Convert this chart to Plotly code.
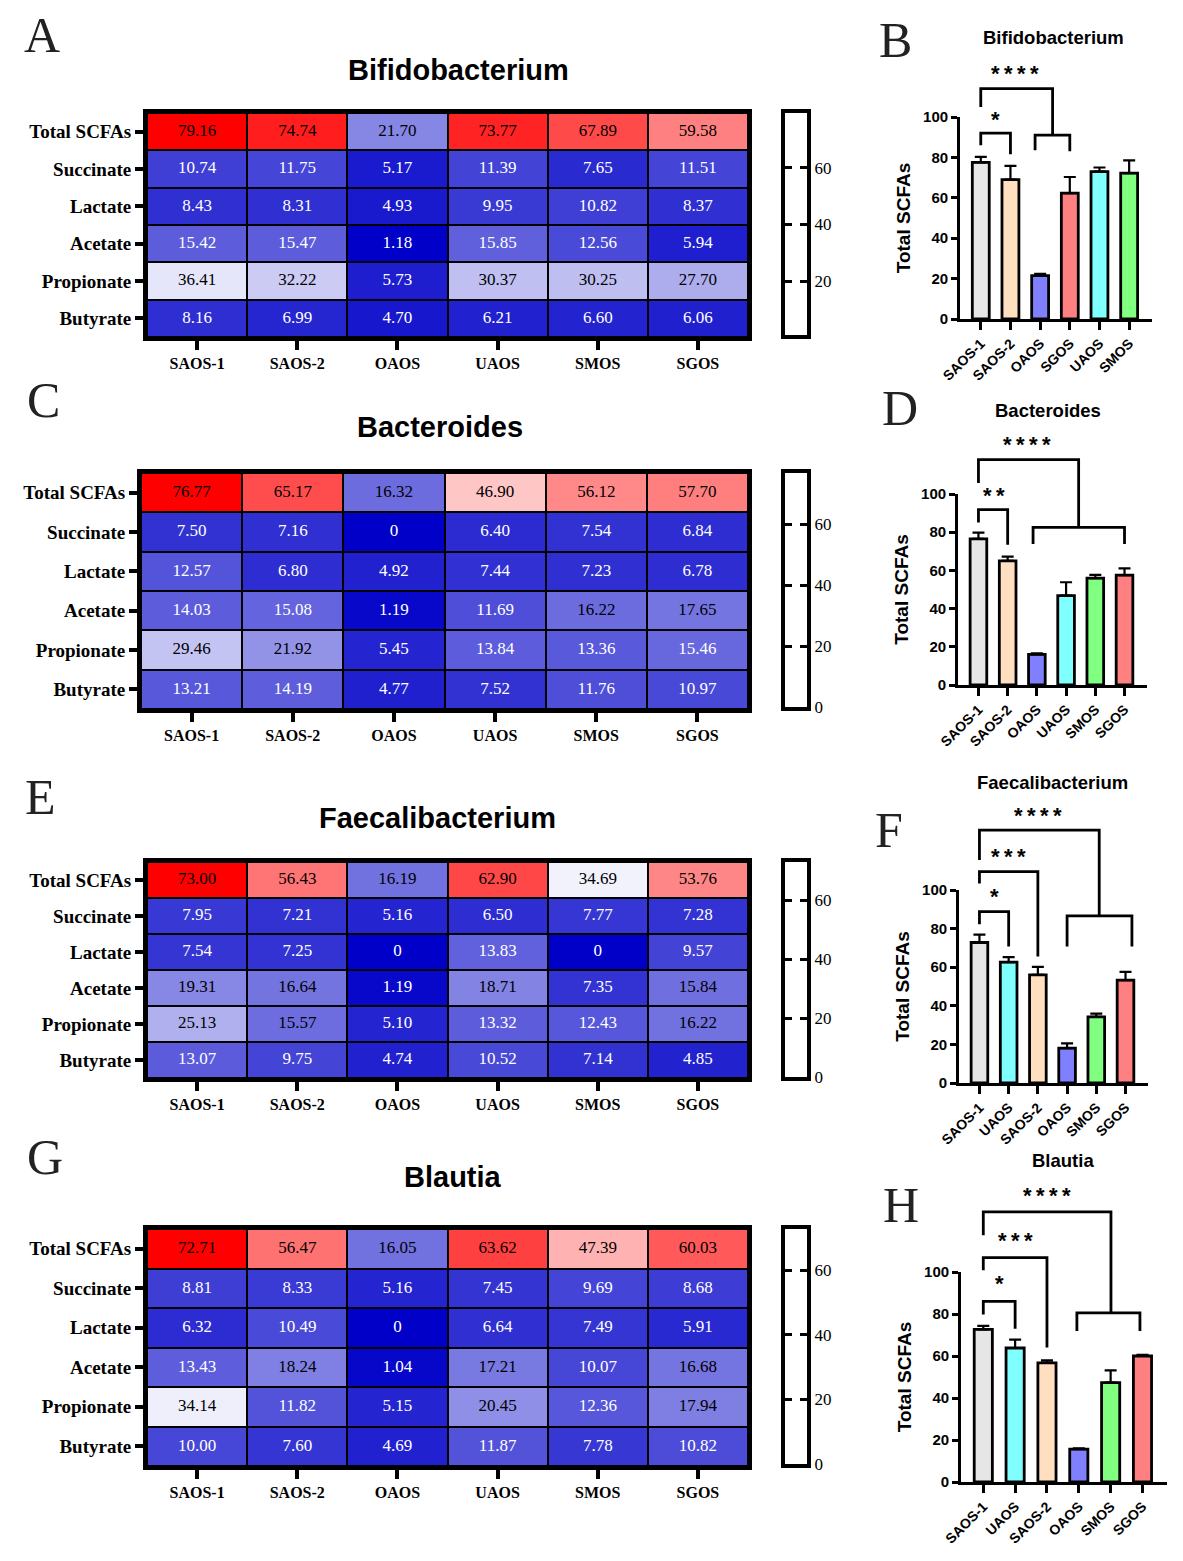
import plotly.graph_objects as go

# ---------------- DATA ----------------
heat_groups = ["SAOS-1", "SAOS-2", "OAOS", "UAOS", "SMOS", "SGOS"]
heat_rows = ["Total SCFAs", "Succinate", "Lactate", "Acetate", "Propionate", "Butyrate"]

bifido_heat = [
    [79.16, 74.74, 21.70, 73.77, 67.89, 59.58],
    [10.74, 11.75, 5.17, 11.39, 7.65, 11.51],
    [8.43, 8.31, 4.93, 9.95, 10.82, 8.37],
    [15.42, 15.47, 1.18, 15.85, 12.56, 5.94],
    [36.41, 32.22, 5.73, 30.37, 30.25, 27.70],
    [8.16, 6.99, 4.70, 6.21, 6.60, 6.06],
]
bact_heat = [
    [76.77, 65.17, 16.32, 46.90, 56.12, 57.70],
    [7.50, 7.16, 0, 6.40, 7.54, 6.84],
    [12.57, 6.80, 4.92, 7.44, 7.23, 6.78],
    [14.03, 15.08, 1.19, 11.69, 16.22, 17.65],
    [29.46, 21.92, 5.45, 13.84, 13.36, 15.46],
    [13.21, 14.19, 4.77, 7.52, 11.76, 10.97],
]
faec_heat = [
    [73.00, 56.43, 16.19, 62.90, 34.69, 53.76],
    [7.95, 7.21, 5.16, 6.50, 7.77, 7.28],
    [7.54, 7.25, 0, 13.83, 0, 9.57],
    [19.31, 16.64, 1.19, 18.71, 7.35, 15.84],
    [25.13, 15.57, 5.10, 13.32, 12.43, 16.22],
    [13.07, 9.75, 4.74, 10.52, 7.14, 4.85],
]
blautia_heat = [
    [72.71, 56.47, 16.05, 63.62, 47.39, 60.03],
    [8.81, 8.33, 5.16, 7.45, 9.69, 8.68],
    [6.32, 10.49, 0, 6.64, 7.49, 5.91],
    [13.43, 18.24, 1.04, 17.21, 10.07, 16.68],
    [34.14, 11.82, 5.15, 20.45, 12.36, 17.94],
    [10.00, 7.60, 4.69, 11.87, 7.78, 10.82],
]
colorbar_ticks = [0, 20, 40, 60]

bifido_bar_groups = ["SAOS-1", "SAOS-2", "OAOS", "SGOS", "UAOS", "SMOS"]
bifido_bar_mean = [77.5, 69.0, 21.5, 62.3, 73.0, 72.2]
bifido_bar_err = [2.8, 6.8, 0.8, 8.0, 2.0, 6.3]

bact_bar_groups = ["SAOS-1", "SAOS-2", "OAOS", "UAOS", "SMOS", "SGOS"]
bact_bar_mean = [76.5, 65.0, 16.0, 46.8, 56.0, 57.5]
bact_bar_err = [3.3, 2.2, 0.6, 7.0, 1.7, 3.6]

faec_bar_groups = ["SAOS-1", "UAOS", "SAOS-2", "OAOS", "SMOS", "SGOS"]
faec_bar_mean = [72.8, 62.6, 56.0, 18.1, 34.3, 53.3]
faec_bar_err = [4.1, 2.6, 4.2, 2.4, 1.6, 4.3]

blautia_bar_groups = ["SAOS-1", "UAOS", "SAOS-2", "OAOS", "SMOS", "SGOS"]
blautia_bar_mean = [72.7, 63.8, 56.7, 15.7, 47.3, 60.0]
blautia_bar_err = [1.6, 4.0, 1.2, 0.3, 5.9, 0.6]

bar_yticks = [0, 20, 40, 60, 80, 100]

# significance brackets: (x_left, x_right, y_bar, y_left_end, y_right_end)
bifido_brackets = [(0, 1, 92, 86, 81.6), (1.83, 3.0, 91, 83.5, 83.0), (0, 2.42, 114, 105, 91)]
bifido_stars = [(0.5, 99, "*"), (1.15, 121.5, "****")]
bact_brackets = [(0, 1, 91.8, 85.1, 73.4), (1.87, 5.0, 82.5, 73.8, 73.8), (0, 3.43, 118, 105.8, 82.5)]
bact_stars = [(0.52, 99, "**"), (1.66, 126, "****")]
faec_brackets = [(0, 1, 88.8, 82.2, 70.7), (0, 2, 109.5, 103.4, 65.5),
                 (3.0, 5.22, 86.6, 70.7, 70.7), (0, 4.1, 131, 115.5, 86.6)]
faec_stars = [(0.5, 96.6, "*"), (1.01, 117.2, "***"), (2.02, 138.8, "****")]
blautia_brackets = [(0, 1, 86, 79.8, 73), (0, 2, 106.8, 100.8, 64),
                    (2.94, 4.92, 80.5, 71.9, 71.9), (0, 4.01, 128.6, 117.5, 80.5)]
blautia_stars = [(0.5, 94.4, "*"), (1.02, 115.1, "***"), (2.0, 136.5, "****")]

group_colors = {"SAOS-1": "#E6E6E6", "SAOS-2": "#FFDFC0", "OAOS": "#8080FF",
                "UAOS": "#80FFFF", "SMOS": "#80FF80", "SGOS": "#FF8080"}

# ---------------- LAYOUT HELPERS ----------------
W, H = 1183, 1561
def fx(p): return p / W
def fy(p): return 1 - p / H

def xid(k): return "x" if k == 1 else f"x{k}"
def yid(k): return "y" if k == 1 else f"y{k}"
def xkey(k): return "xaxis" if k == 1 else f"xaxis{k}"
def ykey(k): return "yaxis" if k == 1 else f"yaxis{k}"

SERIF = "Liberation Serif, Times New Roman, serif"
SANS = "Liberation Sans, Arial, sans-serif"

heat_panels = [
    dict(title="Bifidobacterium", z=bifido_heat, box=(147, 748, 113, 337), cb=(785, 807, 113, 335),
         tpos=(458, 70), letter="A", lpos=(42, 35)),
    dict(title="Bacteroides", z=bact_heat, box=(141, 748, 473, 709), cb=(785, 807, 473, 707),
         tpos=(440, 427), letter="C", lpos=(43, 400)),
    dict(title="Faecalibacterium", z=faec_heat, box=(147, 748, 862, 1078), cb=(785, 807, 862, 1077),
         tpos=(437, 818), letter="E", lpos=(40, 797)),
    dict(title="Blautia", z=blautia_heat, box=(147, 748, 1229, 1466), cb=(785, 807, 1229, 1464),
         tpos=(453, 1177), letter="G", lpos=(45, 1157)),
]

bar_panels = [
    dict(title="Bifidobacterium", groups=bifido_bar_groups, mean=bifido_bar_mean, err=bifido_bar_err,
         brackets=bifido_brackets, stars=bifido_stars, box=(960, 1152, 319, 117),
         tpos=(1053, 37), letter="B", lpos=(895, 40)),
    dict(title="Bacteroides", groups=bact_bar_groups, mean=bact_bar_mean, err=bact_bar_err,
         brackets=bact_brackets, stars=bact_stars, box=(958, 1147, 685, 494),
         tpos=(1048, 410), letter="D", lpos=(900, 408)),
    dict(title="Faecalibacterium", groups=faec_bar_groups, mean=faec_bar_mean, err=faec_bar_err,
         brackets=faec_brackets, stars=faec_stars, box=(959, 1148, 1083, 890),
         tpos=(1052, 782), letter="F", lpos=(889, 830)),
    dict(title="Blautia", groups=blautia_bar_groups, mean=blautia_bar_mean, err=blautia_bar_err,
         brackets=blautia_brackets, stars=blautia_stars, box=(961, 1167, 1482, 1272),
         tpos=(1063, 1160), letter="H", lpos=(901, 1205)),
]

fig = go.Figure()
layout = dict(width=W, height=H, margin=dict(l=0, r=0, t=0, b=0, autoexpand=False),
              paper_bgcolor="white", plot_bgcolor="rgba(0,0,0,0)", showlegend=False)
annotations = []
shapes = []

colorscale = [[0, "rgb(0,0,200)"], [0.5, "rgb(255,255,255)"], [1, "rgb(255,0,0)"]]

def fmt(v):
    return "0" if v == 0 else f"{v:.2f}"

STAR_SEP = "\u2009"

for i, p in enumerate(heat_panels):
    k = i + 1
    xa, ya = xid(k), yid(k)
    z = p["z"]
    flat = [v for r in z for v in r]
    zmin, zmax = min(flat), max(flat)
    fig.add_trace(go.Heatmap(z=z, x=heat_groups, y=heat_rows, colorscale=colorscale,
                             zmin=zmin, zmax=zmax, showscale=False, xgap=2, ygap=2,
                             xaxis=xa, yaxis=ya, hoverinfo="skip"))
    tx, ty, tt, tc = [], [], [], []
    for ri, r in enumerate(z):
        for ci, v in enumerate(r):
            tx.append(heat_groups[ci]); ty.append(heat_rows[ri]); tt.append(fmt(v))
            t = (v - zmin) / (zmax - zmin)
            tc.append("black" if t > 0.205 else "white")
    fig.add_trace(go.Scatter(x=tx, y=ty, text=tt, mode="text", xaxis=xa, yaxis=ya,
                             textfont=dict(family=SERIF, size=17, color=tc),
                             hoverinfo="skip"))
    x0, x1, y0, y1 = p["box"]
    layout[xkey(k)] = dict(domain=[fx(x0), fx(x1)], anchor=ya, type="category", automargin=False,
                           showline=True, mirror=True, linewidth=4, linecolor="black",
                           ticks="outside", ticklen=9, tickwidth=4, tickcolor="black",
                           tickfont=dict(family=SERIF, size=16, color="black", weight="bold"),
                           showgrid=False, zeroline=False, fixedrange=True)
    layout[ykey(k)] = dict(domain=[fy(y1), fy(y0)], anchor=xa, type="category", automargin=False,
                           autorange="reversed",
                           showline=True, mirror=True, linewidth=4, linecolor="black",
                           ticks="outside", ticklen=8, tickwidth=4, tickcolor="black",
                           tickfont=dict(family=SERIF, size=19, color="black", weight="bold"),
                           showgrid=False, zeroline=False, fixedrange=True)
    shapes.append(dict(type="rect", xref=f"{xa} domain", yref=f"{ya} domain", x0=0, x1=1, y0=0, y1=1,
                       fillcolor="black", line=dict(width=0), layer="below"))
    # colour-bar frame
    kc = k + 4
    cxa, cya = xid(kc), yid(kc)
    cx0, cx1, cy0, cy1 = p["cb"]
    fig.add_trace(go.Scatter(x=[], y=[], xaxis=cxa, yaxis=cya, hoverinfo="skip"))
    layout[xkey(kc)] = dict(domain=[fx(cx0), fx(cx1)], anchor=cya, range=[0, 1], automargin=False,
                            showline=True, mirror=True, linewidth=4, linecolor="black",
                            showticklabels=False, ticks="", showgrid=False, zeroline=False)
    layout[ykey(kc)] = dict(domain=[fy(cy1), fy(cy0)], anchor=cxa, range=[zmin, zmax], side="right",
                            automargin=False,
                            showline=True, mirror="ticks", linewidth=4, linecolor="black",
                            ticks="inside", ticklen=7, tickwidth=3, tickcolor="black",
                            tickvals=colorbar_ticks,
                            tickfont=dict(family=SERIF, size=17, color="black"),
                            showgrid=False, zeroline=False)
    annotations.append(dict(text=p["title"], x=fx(p["tpos"][0]), y=fy(p["tpos"][1]), xref="paper",
                            yref="paper", showarrow=False, xanchor="center", yanchor="middle",
                            font=dict(family=SANS, size=29, color="black", weight="bold")))
    annotations.append(dict(text=p["letter"], x=fx(p["lpos"][0]), y=fy(p["lpos"][1]), xref="paper",
                            yref="paper", showarrow=False, xanchor="center", yanchor="middle",
                            font=dict(family=SERIF, size=50, color="#222222")))

XR = [-0.7, 5.77]
OVER = 145
for i, p in enumerate(bar_panels):
    k = i + 9
    xa, ya = xid(k), yid(k)
    x0, x1, py0, py100 = p["box"]
    fig.add_trace(go.Bar(x=p["groups"], y=p["mean"], width=0.57, xaxis=xa, yaxis=ya,
                         marker=dict(color=[group_colors[g] for g in p["groups"]],
                                     line=dict(color="black", width=2.8)),
                         error_y=dict(type="data", array=p["err"], arrayminus=[0] * len(p["err"]),
                                      symmetric=False, color="black", thickness=2.2, width=6),
                         hoverinfo="skip"))
    layout[xkey(k)] = dict(domain=[fx(x0), fx(x1)], anchor=ya, type="category", automargin=False,
                           categoryorder="array", categoryarray=p["groups"], range=XR,
                           showline=True, linewidth=2.8, linecolor="black",
                           ticks="outside", ticklen=8, tickwidth=2.8, tickcolor="black",
                           tickangle=-45,
                           tickfont=dict(family=SANS, size=14, color="black", weight="bold"),
                           showgrid=False, zeroline=False)
    layout[ykey(k)] = dict(domain=[fy(py0), fy(py100)], anchor=xa, range=[0, 100], automargin=False,
                           tickvals=bar_yticks,
                           showline=True, linewidth=2.8, linecolor="black",
                           ticks="outside", ticklen=6, tickwidth=2.8, tickcolor="black",
                           tickfont=dict(family=SANS, size=15, color="black", weight="bold"),
                           title=dict(text="Total SCFAs", standoff=8,
                                      font=dict(family=SANS, size=19, color="black", weight="bold")),
                           showgrid=False, zeroline=False)
    # overlay axes for brackets (same units, taller domain)
    ko = k + 4
    oxa, oya = xid(ko), yid(ko)
    top_px = py0 - (OVER / 100.0) * (py0 - py100)
    bx, by = [], []
    for (xl, xr, yb, yl, yr) in p["brackets"]:
        bx += [xl, xl, xr, xr, None]
        by += [yl, yb, yb, yr, None]
    fig.add_trace(go.Scatter(x=bx, y=by, mode="lines", line=dict(color="black", width=2.8),
                             xaxis=oxa, yaxis=oya, hoverinfo="skip"))
    layout[xkey(ko)] = dict(domain=[fx(x0), fx(x1)], anchor=oya, range=XR, visible=False,
                            automargin=False)
    layout[ykey(ko)] = dict(domain=[fy(py0), fy(top_px)], anchor=oxa, range=[0, OVER], visible=False,
                            automargin=False)
    for (sx, sy, st) in p["stars"]:
        annotations.append(dict(text=STAR_SEP.join(st), x=sx, y=sy, xref=oxa, yref=oya, showarrow=False,
                                xanchor="center", yanchor="middle",
                                font=dict(family=SANS, size=22, color="black", weight="bold")))
    annotations.append(dict(text=p["title"], x=fx(p["tpos"][0]), y=fy(p["tpos"][1]), xref="paper",
                            yref="paper", showarrow=False, xanchor="center", yanchor="middle",
                            font=dict(family=SANS, size=18.5, color="black", weight="bold")))
    annotations.append(dict(text=p["letter"], x=fx(p["lpos"][0]), y=fy(p["lpos"][1]), xref="paper",
                            yref="paper", showarrow=False, xanchor="center", yanchor="middle",
                            font=dict(family=SERIF, size=50, color="#222222")))

layout["annotations"] = annotations
layout["shapes"] = shapes
fig.update_layout(**layout)
fig.write_html("out.html", config={"displayModeBar": False},
               post_script="document.body.style.margin='0px';")
